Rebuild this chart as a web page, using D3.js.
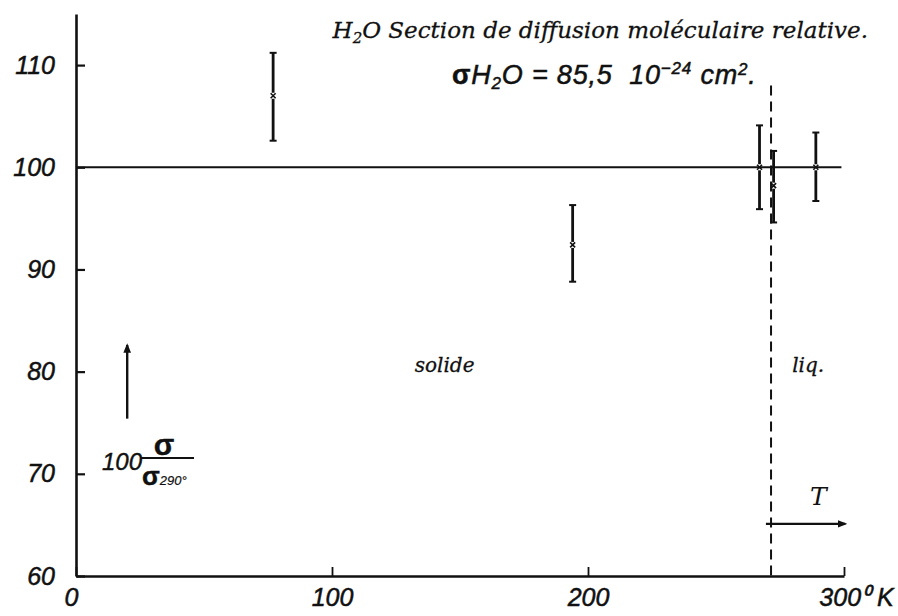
<!DOCTYPE html>
<html>
<head>
<meta charset="utf-8">
<script src="https://cdn.jsdelivr.net/npm/d3@7"></script>
<style>
  body { margin: 0; background: #fff; }
  svg { display: block; }
  .tick text { font-family: "Liberation Sans", Arial, sans-serif; font-style: italic; }
</style>
</head>
<body>
<script>
const temps = [77, 194, 267, 272.5, 289];
const values = [107.0, 92.4, 100, 98.2, 100];
const errLow = [102.6, 88.8, 95.9, 94.6, 96.7];
const errHigh = [111.2, 96.3, 104.1, 101.6, 103.4];

const yTicks = [60, 70, 80, 90, 100, 110];
const xTicks = [0, 100, 200, 300];
const xTickLabels = ['0', '100', '200', '300⁰ K'];
const meltingT = 271.5;
const refValue = 100;

const svgWidth = 898, svgHeight = 616;

const svg = d3.select('body').append('svg')
    .attr('width', svgWidth)
    .attr('height', svgHeight);

const x = d3.scaleLinear().domain([0, 300]).range([76, 844]);
const y = d3.scaleLinear().domain([60, 115]).range([576, 14]);

const ink = '#111';

// y axis, ticks pointing inward
const yAxis = svg.append('g')
    .attr('transform', 'translate(' + x(0) + ',0)')
    .call(d3.axisLeft(y).tickValues(yTicks).tickSize(-9).tickSizeOuter(0).tickPadding(21));
yAxis.select('.domain').attr('stroke', ink).attr('stroke-width', 2.6);
yAxis.selectAll('.tick line').attr('stroke', ink).attr('stroke-width', 2.2);
yAxis.selectAll('.tick text').attr('font-size', 25).attr('fill', ink)
    .attr('stroke', ink).attr('stroke-width', 0.5);

// x axis
const xAxis = svg.append('g')
    .attr('transform', 'translate(0,' + y(60) + ')')
    .call(d3.axisBottom(x).tickValues(xTicks).tickSize(-9).tickSizeOuter(0).tickPadding(12)
        .tickFormat((d, i) => xTickLabels[i]));
xAxis.select('.domain').attr('stroke', ink).attr('stroke-width', 2.6);
xAxis.selectAll('.tick line').attr('stroke', ink).attr('stroke-width', 1.8);
xAxis.selectAll('.tick text').attr('font-size', 25).attr('fill', ink)
    .attr('stroke', ink).attr('stroke-width', 0.5)
    .attr('dx', (d, i) => i === 3 ? 12 : (i === 0 ? -5 : 0));

// reference line at 100
svg.append('line')
    .attr('x1', x(0)).attr('x2', x(299))
    .attr('y1', y(refValue)).attr('y2', y(refValue))
    .attr('stroke', ink).attr('stroke-width', 2);

// melting point dashed line
svg.append('line')
    .attr('x1', x(meltingT)).attr('x2', x(meltingT))
    .attr('y1', y(108)).attr('y2', y(60))
    .attr('stroke', ink).attr('stroke-width', 2)
    .attr('stroke-dasharray', '10,6');

// error bars
const pts = temps.map((t, i) => ({ t: t, v: values[i], lo: errLow[i], hi: errHigh[i] }));
const bars = svg.append('g').selectAll('g').data(pts).enter().append('g');
bars.append('line')
    .attr('x1', d => x(d.t)).attr('x2', d => x(d.t))
    .attr('y1', d => y(d.hi)).attr('y2', d => y(d.v) - 3)
    .attr('stroke', ink).attr('stroke-width', 2.8);
bars.append('line')
    .attr('x1', d => x(d.t)).attr('x2', d => x(d.t))
    .attr('y1', d => y(d.v) + 3).attr('y2', d => y(d.lo))
    .attr('stroke', ink).attr('stroke-width', 2.8);
bars.selectAll('.cap').data(d => [[d.t, d.hi], [d.t, d.lo]]).enter().append('line')
    .attr('x1', d => x(d[0]) - 3.5).attr('x2', d => x(d[0]) + 3.5)
    .attr('y1', d => y(d[1])).attr('y2', d => y(d[1]))
    .attr('stroke', ink).attr('stroke-width', 2);
bars.append('path')
    .attr('d', d => {
        const cx = x(d.t), cy = y(d.v), s = 2.5;
        return 'M' + (cx - s) + ',' + (cy - s) + 'L' + (cx + s) + ',' + (cy + s) +
            'M' + (cx - s) + ',' + (cy + s) + 'L' + (cx + s) + ',' + (cy - s);
    })
    .attr('stroke', ink).attr('stroke-width', 1.6);

// arrows
svg.append('defs').append('marker')
    .attr('id', 'head')
    .attr('viewBox', '0 0 10 10')
    .attr('refX', 8).attr('refY', 5)
    .attr('markerWidth', 4).attr('markerHeight', 4)
    .attr('orient', 'auto')
    .append('path').attr('d', 'M0,1L10,5L0,9Z').attr('fill', ink);

svg.append('line')
    .attr('x1', x(20)).attr('x2', x(20))
    .attr('y1', y(75.4)).attr('y2', y(82.6))
    .attr('stroke', ink).attr('stroke-width', 2.4)
    .attr('marker-end', 'url(#head)');

svg.append('line')
    .attr('x1', x(269.5)).attr('x2', x(300.5))
    .attr('y1', y(65.1)).attr('y2', y(65.1))
    .attr('stroke', ink).attr('stroke-width', 2.4)
    .attr('marker-end', 'url(#head)');

// texts
const serif = '"DejaVu Serif", "Liberation Serif", serif';
const sans = '"Liberation Sans", Arial, sans-serif';

const title = svg.append('text')
    .attr('x', 868).attr('y', 38)
    .attr('text-anchor', 'end')
    .attr('font-family', serif).attr('font-style', 'italic')
    .attr('font-size', 23).attr('fill', ink)
    .attr('stroke', ink).attr('stroke-width', 0.3);
title.append('tspan').text('H');
title.append('tspan').attr('font-size', 15).attr('dy', 5).text('2');
title.append('tspan').attr('dy', -5).text('O Section de diffusion moléculaire relative.');

const sig = svg.append('text')
    .attr('x', 452).attr('y', 84)
    .attr('font-family', sans).attr('font-style', 'italic')
    .attr('font-size', 27).attr('fill', ink)
    .attr('letter-spacing', 0.8)
    .attr('stroke', ink).attr('stroke-width', 0.5);
sig.append('tspan').attr('font-weight', 'bold').attr('font-style', 'normal').text('σ');
sig.append('tspan').text('H');
sig.append('tspan').attr('font-size', 17).attr('dy', 5).text('2');
sig.append('tspan').attr('dy', -5).text('O = 85,5\u00a0\u00a010');
sig.append('tspan').attr('font-size', 17).attr('dy', -10).text('−24');
sig.append('tspan').attr('dy', 10).text(' cm');
sig.append('tspan').attr('font-size', 17).attr('dy', -9).text('2');
sig.append('tspan').attr('dy', 9).text('.');

svg.append('text')
    .attr('x', x(144)).attr('y', 372)
    .attr('text-anchor', 'middle')
    .attr('font-family', serif).attr('font-style', 'italic')
    .attr('font-size', 20).attr('fill', ink)
    .attr('stroke', ink).attr('stroke-width', 0.3)
    .text('solide');

svg.append('text')
    .attr('x', x(286)).attr('y', 372)
    .attr('text-anchor', 'middle')
    .attr('font-family', serif).attr('font-style', 'italic')
    .attr('font-size', 20).attr('fill', ink)
    .attr('stroke', ink).attr('stroke-width', 0.3)
    .text('liq.');

svg.append('text')
    .attr('x', x(290)).attr('y', 505)
    .attr('text-anchor', 'middle')
    .attr('font-family', serif).attr('font-style', 'italic')
    .attr('font-size', 25).attr('fill', ink)
    .text('T');

// y quantity label 100 sigma / sigma290
const lab = svg.append('g').attr('fill', ink).attr('font-family', sans).attr('font-style', 'italic')
    .attr('stroke', ink).attr('stroke-width', 0.4);
lab.append('text').attr('x', 102).attr('y', 470).attr('font-size', 24).text('100');
lab.append('text').attr('x', 164).attr('y', 455).attr('text-anchor', 'middle')
    .attr('font-size', 30).attr('font-weight', 'bold').attr('font-style', 'normal').text('σ');
lab.append('line').attr('x1', 141).attr('x2', 194).attr('y1', 458).attr('y2', 458)
    .attr('stroke', ink).attr('stroke-width', 2);
const den = lab.append('text').attr('x', 142).attr('y', 485);
den.append('tspan').attr('font-size', 26).attr('font-weight', 'bold').attr('font-style', 'normal').text('σ');
den.append('tspan').attr('font-size', 13).attr('stroke-width', 0.2).text('290°');
</script>
</body>
</html>
